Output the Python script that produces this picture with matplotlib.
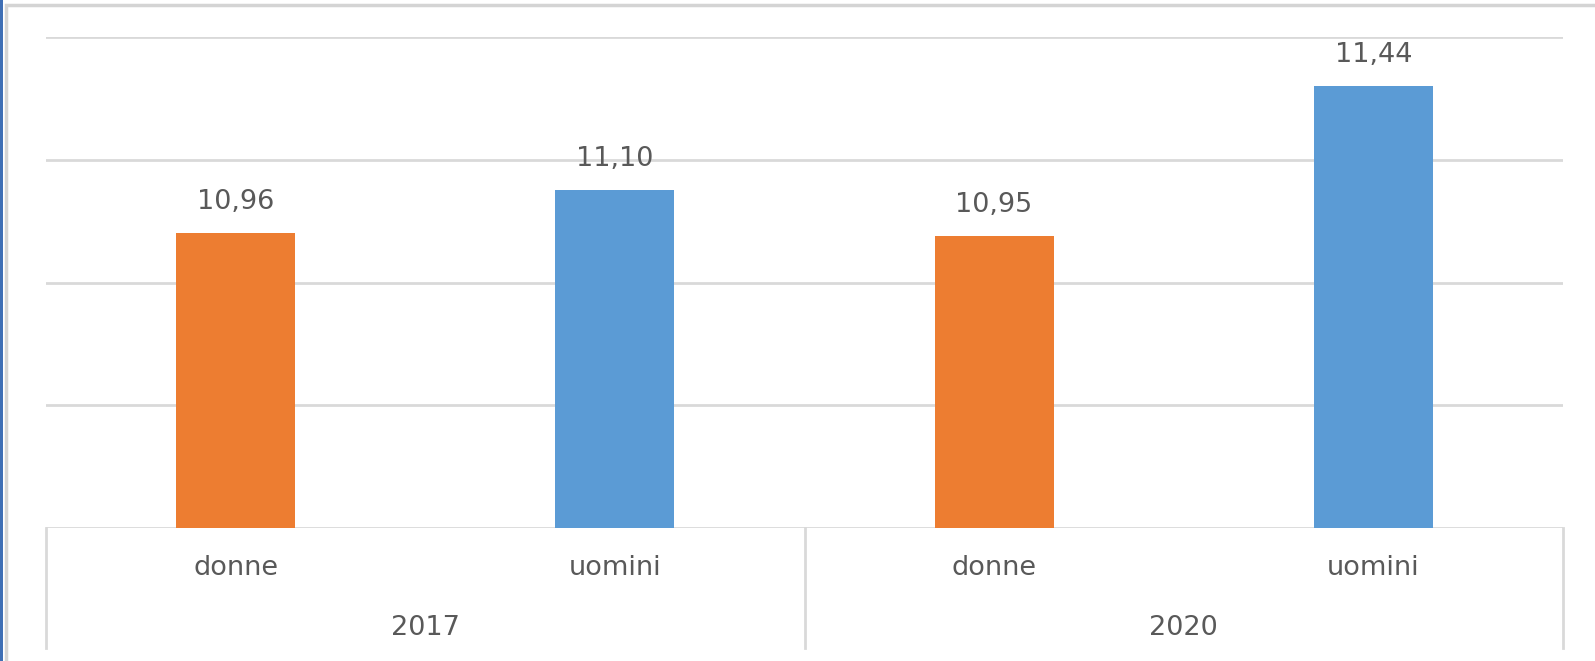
import numpy as np
import matplotlib.pyplot as plt
from matplotlib.patches import Rectangle

years = ["2017", "2020"]
groups = ["donne", "uomini"]
values = [10.96, 11.10, 10.95, 11.44]
value_labels = ["10,96", "11,10", "10,95", "11,44"]
bar_colors = ["#ED7D31", "#5B9BD5", "#ED7D31", "#5B9BD5"]

text_col = "#595959"
grid_col = "#D9D9D9"
plt.rcParams['font.family'] = ['DejaVu Sans']

fig = plt.figure(figsize=(15.95, 6.61), dpi=100)
W, H = 1595, 661

# outer frame: blue strip at left, grey chart-area border
fig.patches.append(Rectangle((0, 0), 3 / W, 1, transform=fig.transFigure,
                             facecolor="#3F6FB5", edgecolor="none"))
fig.patches.append(Rectangle((6 / W, -0.1), 1.2, 1 - 5 / H + 0.1, transform=fig.transFigure,
                             facecolor="none", edgecolor="#D4D4D4", linewidth=2.5))

ax = fig.add_axes([46 / W, (H - 528) / H, (1563 - 46) / W, (528 - 37) / H])

x = np.arange(len(values))
ax.bar(x, values, width=0.314, color=bar_colors, zorder=3)
ax.set_xlim(-0.5, len(values) - 0.5)
ax.set_ylim(10.0, 11.6)
ax.set_yticks(np.arange(10.0, 11.61, 0.4))
ax.yaxis.grid(True, color=grid_col, linewidth=2)
ax.tick_params(left=False, labelleft=False, bottom=False, labelbottom=False)
for s in ax.spines.values():
    s.set_visible(False)

for xi, v, lab in zip(x, values, value_labels):
    ax.text(xi, v + 0.06, lab, ha="center", va="bottom", fontsize=19.5, color=text_col)

# multi-level category axis
tr = ax.get_xaxis_transform()
box_bottom = -(648 - 528) / (528 - 37)
for xb in [-0.5, 1.5, 3.5]:
    ax.plot([xb, xb], [0, box_bottom], transform=tr, color=grid_col,
            linewidth=2, clip_on=False)
for i, xi in enumerate(x):
    ax.text(xi, -(568 - 528) / (528 - 37), groups[i % 2], transform=tr,
            ha="center", va="center", fontsize=19.5, color=text_col)
for j, yr in enumerate(years):
    ax.text(2 * j + 0.5, -(628 - 528) / (528 - 37), yr, transform=tr,
            ha="center", va="center", fontsize=19.5, color=text_col)

fig.savefig("out.png", dpi=100)
